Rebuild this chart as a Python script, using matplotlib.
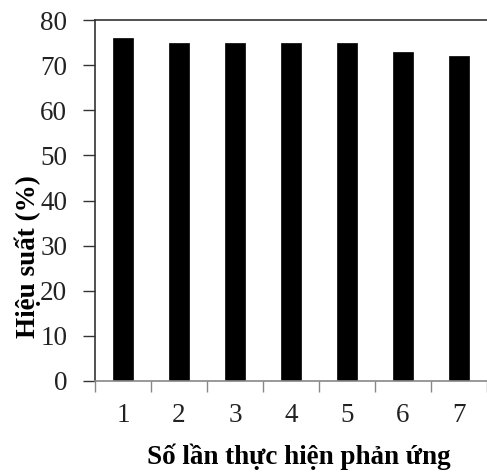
import matplotlib
matplotlib.use("Agg")
import matplotlib.pyplot as plt
import numpy as np

runs = ["1", "2", "3", "4", "5", "6", "7"]
yield_pct = [76, 75, 75, 75, 75, 73, 72]
yticks = [0, 10, 20, 30, 40, 50, 60, 70, 80]

plt.rcParams['font.family'] = ['Liberation Serif', 'DejaVu Serif']

fig = plt.figure(figsize=(4.87, 4.72), dpi=100)
W, H = 487, 472
ax = fig.add_axes([95 / W, 1 - 381 / H, (487 - 95) / W, (381 - 20) / H])

x = np.arange(len(runs))
ax.bar(x, yield_pct, width=0.34, color='black', edgecolor='black', linewidth=0.5)

ax.set_xlim(-0.5, len(runs) - 0.5)
ax.set_ylim(0, 80)
ax.set_yticks(yticks)
ax.set_yticklabels([str(v) for v in yticks], fontsize=19.5, color='#222222')
ax.set_xticks(x)
ax.set_xticklabels(runs, fontsize=19.5, color='#222222')
ax.set_xticks(np.arange(-0.5, len(runs), 1.0), minor=True)
ax.tick_params(axis='x', which='major', length=0, pad=16)
ax.tick_params(axis='x', which='minor', length=8, direction='out', color='#888888', width=1)
ax.tick_params(axis='y', which='major', length=9, direction='out', color='#333333', width=1, pad=11)

for s in ['left', 'top']:
    ax.spines[s].set_color('#333333')
    ax.spines[s].set_linewidth(1.2)
ax.spines['bottom'].set_color('#888888')
ax.spines['bottom'].set_linewidth(1.2)
ax.spines['right'].set_visible(False)

fig.text(299 / W, 1 - 457 / H, "Số lần thực hiện phản ứng", fontsize=19.5,
         fontweight='bold', ha='center', va='center')
fig.text(28 / W, 1 - 257 / H, "Hiệu suất (%)", fontsize=19.5, fontweight='bold',
         ha='center', va='center', rotation=90)

fig.savefig("out.png", dpi=100)
